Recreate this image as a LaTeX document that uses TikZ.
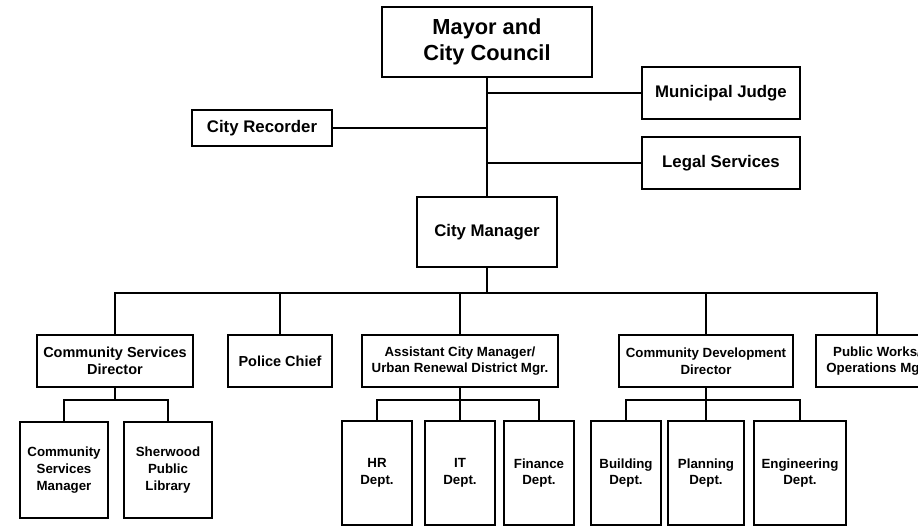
\documentclass[tikz,border=0pt]{standalone}
\usepackage{fontspec}
\setmainfont{Liberation Sans}
\begin{document}
\begin{tikzpicture}[x=1pt,y=-1pt,
  box/.style={draw, line width=1.8pt, inner sep=0pt, align=center, fill=white},
  topfont/.style={font=\fontsize{21.8}{26.5}\selectfont\bfseries},
  mainfont/.style={font=\fontsize{16.8}{20}\selectfont\bfseries},
  midfont/.style={font=\fontsize{14.5}{16.7}\selectfont\bfseries},
  smallfont/.style={font=\fontsize{13.3}{16.7}\selectfont\bfseries},
  dept/.style={box, smallfont, minimum height=104},
  link/.style={line width=2pt}]
\useasboundingbox (0,0) rectangle (918,525);
\clip (0,0) rectangle (918,525);
\fill[white] (0,0) rectangle (918,525);

% governing body and offices attached to it
\node[box, topfont, minimum width=210, minimum height=70] (mayor) at (487,42) {Mayor and\\City Council};
\node[box, mainfont, minimum width=158, minimum height=52] (judge) at (721,93) {Municipal Judge};
\node[box, mainfont, minimum width=158, minimum height=52] (legal) at (721,163) {Legal Services};
\node[box, mainfont, minimum width=140, minimum height=36] (recorder) at (262,128) {City Recorder};
\node[box, mainfont, minimum width=140, minimum height=70] (cm) at (487,232) {City Manager};

% directors
\node[box, midfont, minimum width=156, minimum height=52] (csd) at (115,361) {Community Services\\Director};
\node[box, midfont, minimum width=104, minimum height=52] (police) at (280,361) {Police Chief};
\node[box, smallfont, minimum width=196, minimum height=52] (acm) at (460,361) {Assistant City Manager/\\Urban Renewal District Mgr.};
\node[box, smallfont, minimum width=174, minimum height=52] (cdd) at (706,361) {Community Development\\Director};
\node[box, smallfont, minimum width=122, minimum height=52] (pw) at (877,361) {Public Works/\\Operations Mgr.};

% departments
\node[box, smallfont, minimum width=88, minimum height=96] (csm) at (64,470) {Community\\Services\\Manager};
\node[box, smallfont, minimum width=88, minimum height=96] (spl) at (168,470) {Sherwood\\Public\\Library};
\node[dept, minimum width=70] (hr) at (377,473) {HR\\Dept.};
\node[dept, minimum width=70] (it) at (460,473) {IT\\Dept.};
\node[dept, minimum width=70] (fin) at (539,473) {Finance\\Dept.};
\node[dept, minimum width=70] (bldg) at (626,473) {Building\\Dept.};
\node[dept, minimum width=76] (plan) at (706,473) {Planning\\Dept.};
\node[dept, minimum width=92] (eng) at (800,473) {Engineering\\Dept.};

% upper trunk
\draw[link] (mayor.south) -- (cm.north);
\draw[link] (mayor.south |- judge.west) -- (judge.west);
\draw[link] (mayor.south |- legal.west) -- (legal.west);
\draw[link] (recorder.east) -- (mayor.south |- recorder.east);

% director bus
\coordinate (bus) at (487,293);
\draw[link] (cm.south) -- (bus);
\draw[link] (csd.north) -- (csd.north |- bus) -- (pw.north |- bus) -- (pw.north);
\foreach \n in {police,acm,cdd} \draw[link] (\n.north) -- (\n.north |- bus);

% department buses
\coordinate (lvl) at (0,400);
\draw[link] (csd.south) -- (csd.south |- lvl);
\draw[link] (csm.north) -- (csm.north |- lvl) -- (spl.north |- lvl) -- (spl.north);
\draw[link] (acm.south) -- (it.north);
\draw[link] (hr.north) -- (hr.north |- lvl) -- (fin.north |- lvl) -- (fin.north);
\draw[link] (cdd.south) -- (plan.north);
\draw[link] (bldg.north) -- (bldg.north |- lvl) -- (eng.north |- lvl) -- (eng.north);
\end{tikzpicture}
\end{document}
